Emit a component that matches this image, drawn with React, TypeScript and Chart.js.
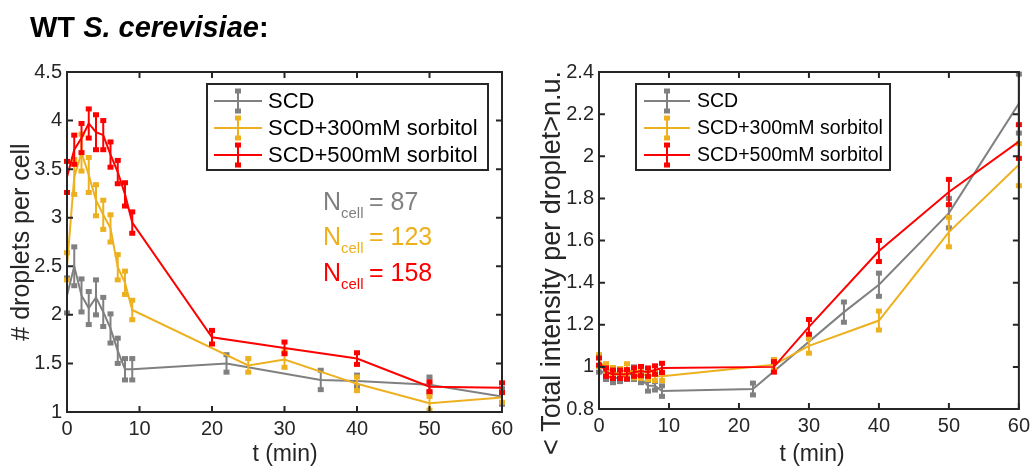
import React, { useEffect, useRef } from 'react';
import { Chart, registerables } from 'chart.js';
Chart.register(...registerables);

const FONT = "'Liberation Sans', Arial, Helvetica, sans-serif";
const GRAY = 'rgb(128,128,128)';
const YELLOW = 'rgb(237,177,32)';
const RED = 'rgb(255,0,0)';
const INK = '#262626';

// ---------- Left panel: # droplets per cell ----------
const grayTimesL = [0, 1, 2, 3, 4, 5, 6, 7, 8, 9, 22, 35, 40, 50, 60];
const grayValsL = [2.2, 2.5, 2.2, 2.07, 2.18, 2.03, 1.86, 1.63, 1.44, 1.44, 1.5, 1.33, 1.32, 1.28, 1.16];
const grayErrL = [0.18, 0.2, 0.17, 0.17, 0.18, 0.15, 0.15, 0.13, 0.11, 0.11, 0.09, 0.1, 0.06, 0.08, 0.08];

const yellowTimesL = [0, 1, 2, 3, 4, 5, 6, 7, 8, 9, 25, 30, 40, 50, 60];
const yellowValsL = [2.5, 3.42, 3.67, 3.44, 3.18, 3.03, 2.89, 2.49, 2.33, 2.05, 1.48, 1.54, 1.29, 1.09, 1.15];
const yellowErrL = [0.14, 0.18, 0.19, 0.18, 0.16, 0.15, 0.14, 0.13, 0.12, 0.1, 0.07, 0.08, 0.07, 0.07, 0.05];

const redTimesL = [0, 1, 2, 3, 4, 5, 6, 7, 8, 9, 20, 30, 40, 50, 60];
const redValsL = [3.42, 3.7, 3.82, 3.97, 3.88, 3.85, 3.65, 3.47, 3.24, 2.95, 1.77, 1.66, 1.55, 1.26, 1.25];
const redErrL = [0.16, 0.15, 0.15, 0.15, 0.18, 0.15, 0.13, 0.12, 0.12, 0.11, 0.07, 0.06, 0.06, 0.05, 0.05];

// ---------- Right panel: total intensity per droplet ----------
const grayTimesR = [0, 1, 2, 3, 4, 5, 6, 7, 8, 9, 22, 35, 40, 50, 60];
const grayValsR = [0.99, 0.96, 0.945, 0.95, 0.96, 0.97, 0.945, 0.91, 0.91, 0.885, 0.895, 1.26, 1.39, 1.73, 2.25];
const grayErrR = [0.015, 0.02, 0.02, 0.02, 0.02, 0.03, 0.02, 0.025, 0.02, 0.025, 0.028, 0.048, 0.055, 0.07, 0.14];

const yellowTimesR = [0, 1, 2, 3, 4, 5, 6, 7, 8, 9, 25, 30, 40, 50, 60];
const yellowValsR = [1.03, 0.99, 0.975, 0.97, 0.99, 0.97, 0.965, 0.96, 0.955, 0.955, 1.01, 1.1, 1.22, 1.64, 1.96];
const yellowErrR = [0.028, 0.025, 0.022, 0.022, 0.025, 0.022, 0.02, 0.02, 0.02, 0.02, 0.025, 0.035, 0.045, 0.07, 0.1];

const redTimesR = [0, 1, 2, 3, 4, 5, 6, 7, 8, 9, 25, 30, 40, 50, 60];
const redValsR = [1.025, 0.975, 0.965, 0.965, 0.965, 0.975, 0.98, 0.975, 0.985, 0.995, 1.0, 1.19, 1.55, 1.83, 2.07];
const redErrR = [0.017, 0.02, 0.02, 0.02, 0.022, 0.02, 0.022, 0.02, 0.02, 0.022, 0.025, 0.035, 0.05, 0.06, 0.08];

const legendLabels = ['SCD', 'SCD+300mM sorbitol', 'SCD+500mM sorbitol'];
const nCellCounts = ['87', '123', '158'];
const xTickLabels = [0, 10, 20, 30, 40, 50, 60];

type Series = { t: number[]; v: number[]; e: number[]; color: string; order: number };

type PanelCfg = {
  left: number;
  w: number;
  h: number;
  area: { l: number; r: number; t: number; b: number };
  yMin: number;
  yMax: number;
  yStep: number;
  yTitle: string;
  yTitlePos: { x: number; y: number };
  yTitleSize: number;
  xTitlePos: { x: number; y: number };
  series: Series[];
  legend: { x: number; y: number; w: number; h: number; textX: number; sx1: number; sx2: number; rows: number[]; size: number };
  notes: boolean;
};

const leftCfg: PanelCfg = {
  left: 0,
  w: 520,
  h: 468,
  area: { l: 67, r: 502, t: 72, b: 412 },
  yMin: 1,
  yMax: 4.5,
  yStep: 0.5,
  yTitle: '# droplets per cell',
  yTitlePos: { x: 22, y: 242 },
  yTitleSize: 25,
  xTitlePos: { x: 285, y: 455 },
  series: [
    { t: grayTimesL, v: grayValsL, e: grayErrL, color: GRAY, order: 3 },
    { t: yellowTimesL, v: yellowValsL, e: yellowErrL, color: YELLOW, order: 2 },
    { t: redTimesL, v: redValsL, e: redErrL, color: RED, order: 1 },
  ],
  legend: { x: 207, y: 84, w: 281, h: 86, textX: 268, sx1: 214, sx2: 262, rows: [101, 128, 155], size: 22 },
  notes: true,
};

const rightCfg: PanelCfg = {
  left: 520,
  w: 515,
  h: 468,
  area: { l: 79, r: 505, t: 72, b: 409 },
  yMin: 0.8,
  yMax: 2.4,
  yStep: 0.2,
  yTitle: '< Total intensity per droplet>n.u.',
  yTitlePos: { x: 33, y: 263 },
  yTitleSize: 27,
  xTitlePos: { x: 292, y: 455 },
  series: [
    { t: grayTimesR, v: grayValsR, e: grayErrR, color: GRAY, order: 3 },
    { t: yellowTimesR, v: yellowValsR, e: yellowErrR, color: YELLOW, order: 2 },
    { t: redTimesR, v: redValsR, e: redErrR, color: RED, order: 1 },
  ],
  legend: { x: 116, y: 84, w: 254, h: 86, textX: 177, sx1: 124, sx2: 170, rows: [101, 128, 155], size: 19.5 },
  notes: false,
};

function drawErrBar(ctx: CanvasRenderingContext2D, x: number, y1: number, y2: number, color: string) {
  ctx.strokeStyle = color;
  ctx.fillStyle = color;
  ctx.lineWidth = 2;
  ctx.beginPath();
  ctx.moveTo(x, y1);
  ctx.lineTo(x, y2);
  ctx.stroke();
  ctx.fillRect(x - 3, y1 - 2.5, 6, 5);
  ctx.fillRect(x - 3, y2 - 2.5, 6, 5);
}

function makePlugin(cfg: PanelCfg) {
  return {
    id: 'matlabStyle',
    afterDatasetDraw(chart: any, args: any) {
      const ds = chart.data.datasets[args.index];
      if (!ds || !ds.err) return;
      const ctx: CanvasRenderingContext2D = chart.ctx;
      const ys = chart.scales.y;
      const xs = chart.scales.x;
      ctx.save();
      ds.data.forEach((p: any, i: number) => {
        const x = xs.getPixelForValue(p.x);
        const y1 = ys.getPixelForValue(p.y + ds.err[i]);
        const y2 = ys.getPixelForValue(p.y - ds.err[i]);
        drawErrBar(ctx, x, y1, y2, ds.borderColor);
      });
      ctx.restore();
    },
    afterDraw(chart: any) {
      const ctx: CanvasRenderingContext2D = chart.ctx;
      const { left, right, top, bottom } = chart.chartArea;
      ctx.save();
      // box
      ctx.strokeStyle = INK;
      ctx.lineWidth = 2;
      ctx.strokeRect(left, top, right - left, bottom - top);
      // inner ticks
      const tl = 6;
      chart.scales.x.ticks.forEach((t: any) => {
        const px = chart.scales.x.getPixelForValue(t.value);
        ctx.beginPath();
        ctx.moveTo(px, bottom);
        ctx.lineTo(px, bottom - tl);
        ctx.moveTo(px, top);
        ctx.lineTo(px, top + tl);
        ctx.stroke();
      });
      chart.scales.y.ticks.forEach((t: any) => {
        const py = chart.scales.y.getPixelForValue(t.value);
        ctx.beginPath();
        ctx.moveTo(left, py);
        ctx.lineTo(left + tl, py);
        ctx.moveTo(right, py);
        ctx.lineTo(right - tl, py);
        ctx.stroke();
      });
      // axis titles
      ctx.fillStyle = INK;
      ctx.textAlign = 'center';
      ctx.textBaseline = 'middle';
      ctx.font = `23px ${FONT}`;
      ctx.fillText('t (min)', cfg.xTitlePos.x, cfg.xTitlePos.y);
      ctx.save();
      ctx.translate(cfg.yTitlePos.x, cfg.yTitlePos.y);
      ctx.rotate(-Math.PI / 2);
      ctx.font = `${cfg.yTitleSize}px ${FONT}`;
      ctx.fillText(cfg.yTitle, 0, 0);
      ctx.restore();
      // legend
      const lg = cfg.legend;
      ctx.fillStyle = '#ffffff';
      ctx.fillRect(lg.x, lg.y, lg.w, lg.h);
      ctx.strokeStyle = INK;
      ctx.lineWidth = 2;
      ctx.strokeRect(lg.x, lg.y, lg.w, lg.h);
      cfg.series.forEach((s, i) => {
        const y = lg.rows[i];
        ctx.strokeStyle = s.color;
        ctx.lineWidth = 2;
        ctx.beginPath();
        ctx.moveTo(lg.sx1, y);
        ctx.lineTo(lg.sx2, y);
        ctx.stroke();
        drawErrBar(ctx, (lg.sx1 + lg.sx2) / 2, y - 10, y + 10, s.color);
        ctx.fillStyle = '#000000';
        ctx.textAlign = 'left';
        ctx.textBaseline = 'middle';
        ctx.font = `${lg.size}px ${FONT}`;
        ctx.fillText(legendLabels[i], lg.textX, y + 1);
      });
      // N_cell annotations
      if (cfg.notes) {
        const rowsBase = [210, 245, 281];
        cfg.series.forEach((s, i) => {
          const b = rowsBase[i];
          ctx.fillStyle = s.color;
          ctx.textAlign = 'left';
          ctx.textBaseline = 'alphabetic';
          ctx.font = `25px ${FONT}`;
          ctx.fillText('N', 323, b);
          ctx.font = `15px ${FONT}`;
          ctx.fillText('cell', 341, b + 8);
          ctx.font = `25px ${FONT}`;
          ctx.fillText('= ' + nCellCounts[i], 369, b);
        });
      }
      ctx.restore();
    },
  };
}

function Panel({ cfg }: { cfg: PanelCfg }) {
  const ref = useRef<HTMLCanvasElement>(null);
  useEffect(() => {
    if (!ref.current) return;
    const tickFont = { family: FONT, size: 20 };
    const chart = new Chart(ref.current, {
      type: 'line',
      data: {
        datasets: cfg.series.map((s) => ({
          data: s.t.map((x, i) => ({ x, y: s.v[i] })),
          err: s.e,
          borderColor: s.color,
          backgroundColor: s.color,
          borderWidth: 2,
          pointRadius: 0,
          fill: false,
          tension: 0,
          order: s.order,
        })) as any,
      },
      options: {
        responsive: false,
        animation: false,
        devicePixelRatio: 1,
        layout: { padding: { left: 0, top: cfg.area.t, right: cfg.w - cfg.area.r, bottom: 0 } },
        plugins: { legend: { display: false }, tooltip: { enabled: false } },
        scales: {
          x: {
            type: 'linear',
            min: 0,
            max: 60,
            afterBuildTicks: (scale: any) => {
              scale.ticks = xTickLabels.map((v) => ({ value: v }));
            },
            ticks: { font: tickFont, color: INK, padding: 5, maxRotation: 0, autoSkip: false },
            grid: { display: false, drawTicks: false },
            border: { display: false },
            afterFit: (s: any) => {
              s.height = cfg.h - cfg.area.b;
            },
          },
          y: {
            type: 'linear',
            min: cfg.yMin,
            max: cfg.yMax,
            ticks: {
              stepSize: cfg.yStep,
              font: tickFont,
              color: INK,
              padding: 5,
              autoSkip: false,
              callback: (v: any) => String(Math.round(Number(v) * 10) / 10),
            },
            grid: { display: false, drawTicks: false },
            border: { display: false },
            afterFit: (s: any) => {
              s.width = cfg.area.l;
            },
          },
        },
      } as any,
      plugins: [makePlugin(cfg)],
    });
    return () => chart.destroy();
  }, []);
  return (
    <canvas
      ref={ref}
      width={cfg.w}
      height={cfg.h}
      style={{ position: 'absolute', left: cfg.left, top: 0, width: cfg.w, height: cfg.h }}
    />
  );
}

export default function App() {
  return (
    <div style={{ position: 'absolute', left: 0, top: 0, width: 1035, height: 468, background: '#fff', overflow: 'hidden' }}>
      <Panel cfg={leftCfg} />
      <Panel cfg={rightCfg} />
      <div
        style={{
          position: 'absolute',
          left: 30,
          top: 11,
          font: `bold 29px ${FONT}`,
          color: '#000',
          whiteSpace: 'nowrap',
          lineHeight: '32px',
        }}
      >
        WT <i>S. cerevisiae</i>:
      </div>
    </div>
  );
}
